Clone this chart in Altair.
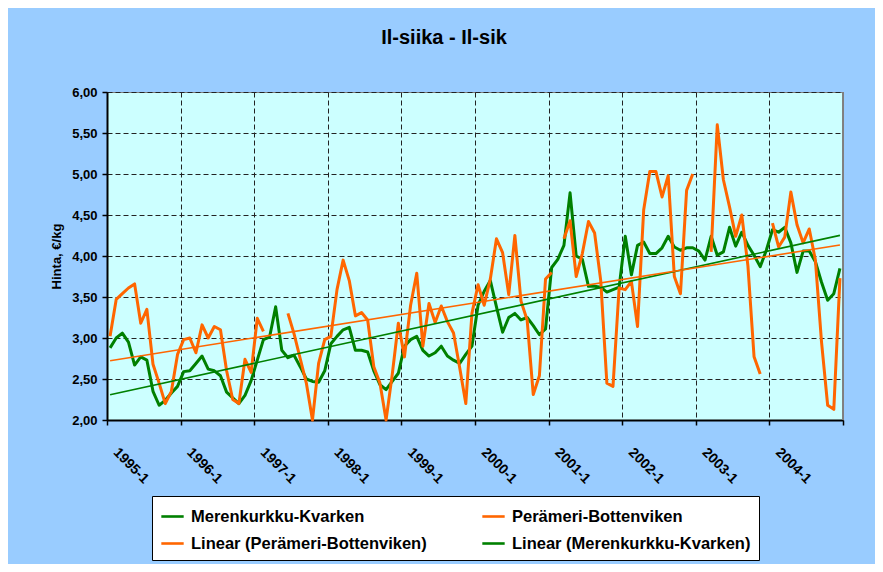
import altair as alt
import pandas as pd

# Monthly prices 1995-1 ... 2004-12 (index 0..119)
green = [2.88, 3.00, 3.06, 2.95, 2.67, 2.77, 2.73, 2.35, 2.18, 2.24, 2.33, 2.41,
         2.59, 2.60, 2.69, 2.78, 2.62, 2.60, 2.54, 2.34, 2.27, 2.20, 2.30, 2.48,
         2.73, 2.98, 3.01, 3.38, 2.85, 2.76, 2.79, 2.65, 2.50, 2.47, 2.46, 2.60,
         2.93, 3.02, 3.10, 3.13, 2.85, 2.85, 2.83, 2.60, 2.43, 2.37, 2.47, 2.57,
         2.90, 2.98, 3.02, 2.85, 2.78, 2.82, 2.90, 2.78, 2.73, 2.69, 2.80, 2.90,
         3.40, 3.57, 3.70, 3.38, 3.07, 3.25, 3.30, 3.22, 3.25, 3.15, 3.04, 3.11,
         3.86, 3.96, 4.13, 4.77, 4.00, 3.96, 3.63, 3.63, 3.62, 3.56, 3.59, 3.62,
         4.24, 3.77, 4.13, 4.17, 4.03, 4.03, 4.10, 4.24, 4.11, 4.07, 4.10, 4.10,
         4.06, 3.95, 4.24, 4.01, 4.05, 4.35, 4.12, 4.29, 4.13, 4.01, 3.87, 4.07,
         4.32, 4.29, 4.35, 4.16, 3.80, 4.06, 4.06, 3.93, 3.68, 3.46, 3.54, 3.85]

orange = [3.02, 3.47, 3.54, 3.61, 3.66, 3.18, 3.35, 2.68, 2.45, 2.20, 2.35, 2.80,
          2.98, 3.00, 2.82, 3.16, 3.00, 3.14, 3.10, 2.60, 2.25, 2.20, 2.74, 2.58,
          3.24, 3.08, None, None, None, 3.30, 3.05, 2.75, 2.45, 2.00, 2.69, 2.98,
          3.02, 3.59, 3.95, 3.70, 3.27, 3.31, 3.22, 2.65, 2.45, 2.00, 2.55, 3.18,
          2.77, 3.40, 3.79, 2.90, 3.42, 3.19, 3.39, 3.20, 3.06, 2.64, 2.20, 3.30,
          3.65, 3.40, 3.72, 4.21, 4.04, 3.53, 4.25, 3.45, 3.22, 2.31, 2.54, 3.72,
          3.80, None, 4.21, 4.43, 3.75, 4.03, 4.42, 4.28, 3.70, 2.45, 2.41, 3.61,
          3.59, 3.69, 3.14, 4.56, 5.03, 5.03, 4.72, 4.98, 3.75, 3.54, 4.80, 5.00,
          None, None, 4.05, 5.60, 4.93, 4.60, 4.24, 4.50, 3.88, 2.77, 2.56, None,
          4.40, 4.11, 4.23, 4.78, 4.38, 4.16, 4.33, 3.95, 2.95, 2.18, 2.13, 3.73]

series_names = ["Merenkurkku-Kvarken", "Perämeri-Bottenviken"]
trend_names = ["Linear (Perämeri-Bottenviken)", "Linear (Merenkurkku-Kvarken)"]
first_year = 1995
y_ticks = [2.0, 2.5, 3.0, 3.5, 4.0, 4.5, 5.0, 5.5, 6.0]
x_ticks = [-0.5 + 12 * k for k in range(11)]

rows = []
for i, (g, o) in enumerate(zip(green, orange)):
    rows.append({"m": i, "series": series_names[0], "price": g})
    rows.append({"m": i, "series": series_names[1], "price": o})
df = pd.DataFrame(rows)

FONT = "Liberation Sans"
domain_all = series_names + trend_names
color_scale = alt.Scale(domain=domain_all,
                        range=["#008000", "#ff6600", "#ff6600", "#008000"])

legend = alt.Legend(
    title=None, orient="none", legendX=45, legendY=404, direction="horizontal",
    columns=2, columnPadding=50, rowPadding=6, padding=8,
    fillColor="white", strokeColor="black", symbolType="stroke",
    symbolSize=500, symbolStrokeWidth=2.6,
    labelFont=FONT, labelFontSize=16.5, labelFontWeight="bold",
    labelColor="black", labelOffset=6, labelLimit=400,
)

x_enc = alt.X(
    "m:Q",
    scale=alt.Scale(domain=[-0.5, 119.5], nice=False, zero=False),
    axis=alt.Axis(
        values=x_ticks, title=None, grid=True, gridColor="#222222",
        gridDash=[5, 3], gridWidth=1,
        labelExpr=f"datum.value < 119 ? ({first_year} + round((datum.value + 0.5) / 12)) + '-1' : ''",
        labelAngle=45, labelAlign="left", labelBaseline="middle",
        labelPadding=25, labelOffset=8, labelFlush=False, labelOverlap=False,
        labelFont=FONT, labelFontSize=14, labelFontWeight="bold", labelColor="black",
        tickSize=5, tickColor="black", tickWidth=1.5,
        domainColor="black", domainWidth=2,
    ),
)
y_enc = alt.Y(
    "price:Q",
    scale=alt.Scale(domain=[2, 6], nice=False, zero=False),
    axis=alt.Axis(
        values=y_ticks, title="Hinta, €/kg",
        labelExpr="replace(format(datum.value, '.2f'), '.', ',')",
        grid=True, gridColor="#222222", gridDash=[5, 3], gridWidth=1,
        labelFont=FONT, labelFontSize=13, labelFontWeight="bold", labelColor="black",
        labelPadding=5,
        titleFont=FONT, titleFontSize=13, titleFontWeight="bold", titleColor="black",
        titlePadding=8,
        tickSize=5, tickColor="black", tickWidth=1.5,
        domainColor="black", domainWidth=2,
    ),
)

base = alt.Chart(df)

series_lines = base.mark_line(strokeJoin="round", strokeWidth=3).encode(
    x=x_enc, y=y_enc,
    color=alt.Color("series:N", scale=color_scale, legend=legend),
)

trend_lines = base.transform_regression(
    "m", "price", groupby=["series"]
).transform_calculate(
    series="'Linear (' + datum.series + ')'"
).mark_line(strokeWidth=1.6).encode(
    x="m:Q", y="price:Q",
    color=alt.Color("series:N", scale=color_scale, legend=legend),
)

right_border = alt.Chart(df).mark_rule(color="#808080", strokeWidth=1).encode(
    x=alt.value(736), y=alt.value(0), y2=alt.value(328)
)

chart = alt.layer(series_lines, trend_lines, right_border).properties(
    width=736, height=328,
    title=alt.TitleParams("Il-siika - Il-sik", font=FONT, fontSize=20,
                          fontWeight="bold", color="black", anchor="middle",
                          dx=-31, offset=38),
    padding={"left": 99, "top": 84, "right": 32, "bottom": 144},
    autosize=alt.AutoSizeParams(type="none"),
).configure(
    background="#99ccff"
).configure_view(
    fill="#ccffff", stroke="#808080", strokeWidth=1
)

chart.save("out.html", embed_options={"renderer": "svg", "actions": False})
